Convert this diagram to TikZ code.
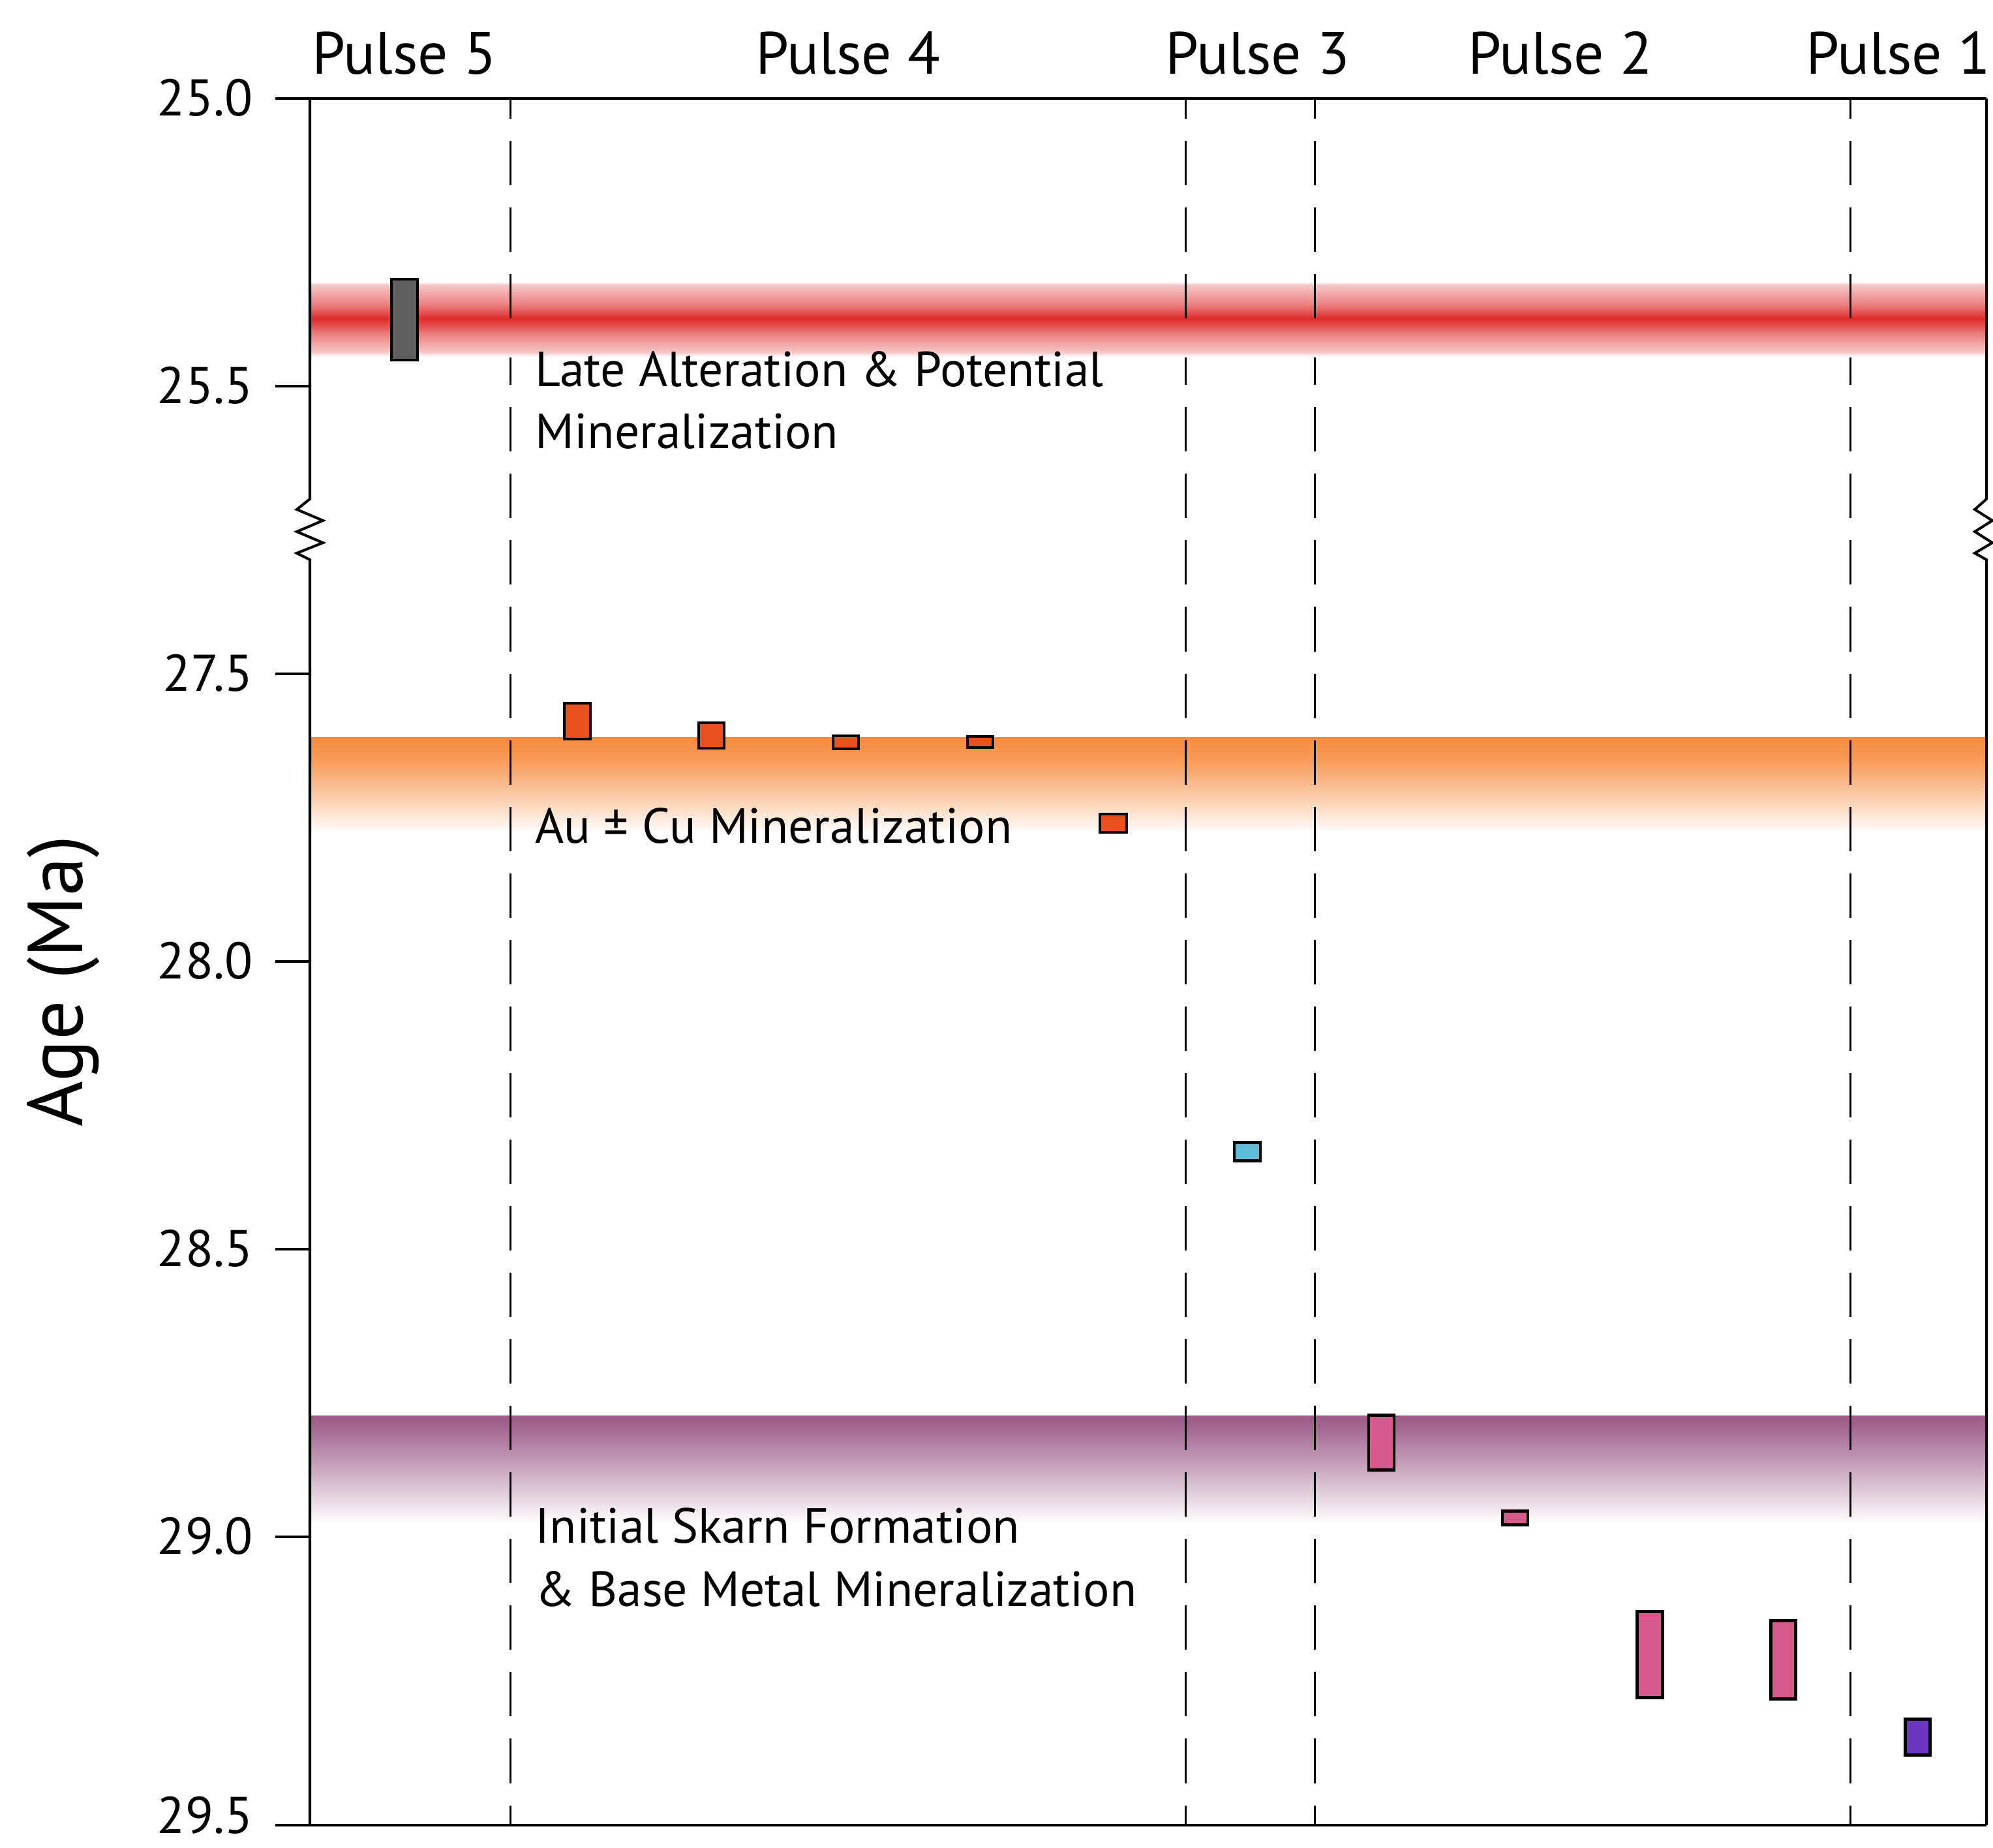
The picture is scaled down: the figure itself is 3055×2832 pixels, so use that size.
\documentclass[tikz,border=0pt]{standalone}
\usepackage{fontspec}
\setmainfont{PT Sans}
\definecolor{grayfill}{HTML}{5F5F5F}
\definecolor{orangefill}{HTML}{E9501E}
\definecolor{cyanfill}{HTML}{5EBCD6}
\definecolor{pinkfill}{HTML}{D65B8C}
\definecolor{violetfill}{HTML}{6B36C2}
\definecolor{bandred}{HTML}{DE2A2A}
\definecolor{bandorange}{HTML}{F68B3D}
\definecolor{bandpurple}{HTML}{9C5A88}
\begin{document}
\begin{tikzpicture}[x=0.01cm,y=-0.01cm,
  agebox/.style={draw=black,line width=1.4pt},
  axisline/.style={draw=black,line width=1.15pt},
  pulsediv/.style={draw=black,line width=0.85pt,dash pattern=on 0.68cm off 0.34cm,dash phase=0.37cm},
  pulselabel/.style={anchor=base,inner sep=0pt,font=\fontsize{26}{30}\selectfont},
  ticklabel/.style={anchor=base east,inner sep=0pt,font=\fontsize{22.5}{27}\selectfont},
  bandlabel/.style={anchor=base west,inner sep=0pt,font=\fontsize{21.5}{27}\selectfont},
  axislabel/.style={anchor=base,inner sep=0pt,rotate=90,font=\fontsize{34}{40}\selectfont}]
\useasboundingbox (0,0) rectangle (3055,2832);
\fill[white] (0,0) rectangle (3055,2832);

% ---- bands (under the dividers) ----
% red band, upper half
\shade[top color=bandred!0,bottom color=bandred!25] (475,432) rectangle (3045,437);
\shade[top color=bandred!25,bottom color=bandred!62] (475,436) rectangle (3045,469);
\shade[top color=bandred!62,bottom color=bandred] (475,468) rectangle (3045,489);
% orange band
\shade[top color=bandorange,bottom color=bandorange!85] (475,1130) rectangle (3045,1168);
\shade[top color=bandorange!85,bottom color=bandorange!0] (475,1167) rectangle (3045,1278);
% purple band
\shade[top color=bandpurple,bottom color=bandpurple!92] (475,2170) rectangle (3045,2190);
\shade[top color=bandpurple!92,bottom color=bandpurple!0] (475,2189) rectangle (3045,2336);

% ---- pulse dividers ----
\coordinate (d1t) at (782,151);  \coordinate (d1b) at (782,2798);
\coordinate (d2t) at (1817,151); \coordinate (d2b) at (1817,2798);
\coordinate (d3t) at (2015,151); \coordinate (d3b) at (2015,2798);
\coordinate (d4t) at (2836,151); \coordinate (d4b) at (2836,2798);
\draw[pulsediv] (d1t) -- (d1b);
\draw[pulsediv] (d2t) -- (d2b);
\draw[pulsediv] (d3t) -- (d3b);
\draw[pulsediv] (d4t) -- (d4b);

% red band, lower half (drawn over the dividers)
\shade[top color=bandred,bottom color=bandred!62] (475,488) rectangle (3045,511);
\shade[top color=bandred!62,bottom color=bandred!25] (475,510) rectangle (3045,541);
\shade[top color=bandred!25,bottom color=bandred!0] (475,540) rectangle (3045,547);

% ---- axes ----
\draw[axisline] (422,151) -- (3045,151);
\draw[axisline] (422,2798) -- (3045,2798);
\draw[axisline,line join=miter] (475,151) -- (475,765) -- (455,781) -- (495,798) -- (455,815) -- (495,832) -- (455,848) -- (475,858) -- (475,2798);
\draw[axisline,line join=miter] (3045,151) -- (3045,765) -- (3027,781) -- (3054,798) -- (3027,815) -- (3054,832) -- (3027,848) -- (3045,858) -- (3045,2798);
\foreach \yy in {592,1033,1474,1915,2356}{\draw[axisline] (422,\yy) -- (475,\yy);}

% ---- tick labels ----
\node[ticklabel] (t250) at (388,177) {25.0};
\node[ticklabel] (t255) at (388,618) {25.5};
\node[ticklabel] (t275) at (388,1059) {27.5};
\node[ticklabel] (t280) at (388,1500) {28.0};
\node[ticklabel] (t285) at (388,1941) {28.5};
\node[ticklabel] (t290) at (388,2382) {29.0};
\node[ticklabel] (t295) at (388,2810) {29.5};

\node[axislabel] (age) at (126,1504) {Age (Ma)};

% ---- pulse labels ----
\node[pulselabel] (p5) at (620,113) {Pulse 5};
\node[pulselabel] (p4) at (1300,113) {Pulse 4};
\node[pulselabel] (p3) at (1928,113) {Pulse 3};
\node[pulselabel] (p2) at (2392,113) {Pulse 2};
\node[pulselabel] (p1) at (2910,113) {Pulse 1};

% ---- band labels ----
\node[bandlabel] (late1) at (820,592) {Late Alteration \& Potential};
\node[bandlabel] (late2) at (820,687) {Mineralization};
\node[bandlabel] (au) at (820,1292) {Au ± Cu Mineralization};
\node[bandlabel] (sk1) at (820,2365) {Initial Skarn Formation};
\node[bandlabel] (sk2) at (820,2462) {\& Base Metal Mineralization};

% ---- age boxes ----
\draw[agebox,fill=grayfill] (600,428) rectangle (640,552);
\draw[agebox,fill=orangefill] (865,1078) rectangle (905,1133);
\draw[agebox,fill=orangefill] (1071,1108) rectangle (1110,1147);
\draw[agebox,fill=orangefill] (1277,1128) rectangle (1316,1148);
\draw[agebox,fill=orangefill] (1483,1129) rectangle (1522,1146);
\draw[agebox,fill=orangefill] (1686,1248) rectangle (1727,1276);
\draw[agebox,fill=cyanfill] (1892,1751) rectangle (1932,1779);
\draw[agebox,fill=pinkfill] (2098,2169) rectangle (2137,2253);
\draw[agebox,fill=pinkfill] (2303,2316) rectangle (2342,2337);
\draw[agebox,fill=pinkfill] (2509,2470) rectangle (2548,2602);
\draw[agebox,fill=pinkfill] (2714,2484) rectangle (2752,2604);
\draw[agebox,fill=violetfill] (2920,2635) rectangle (2958,2690);
\end{tikzpicture}
\end{document}
